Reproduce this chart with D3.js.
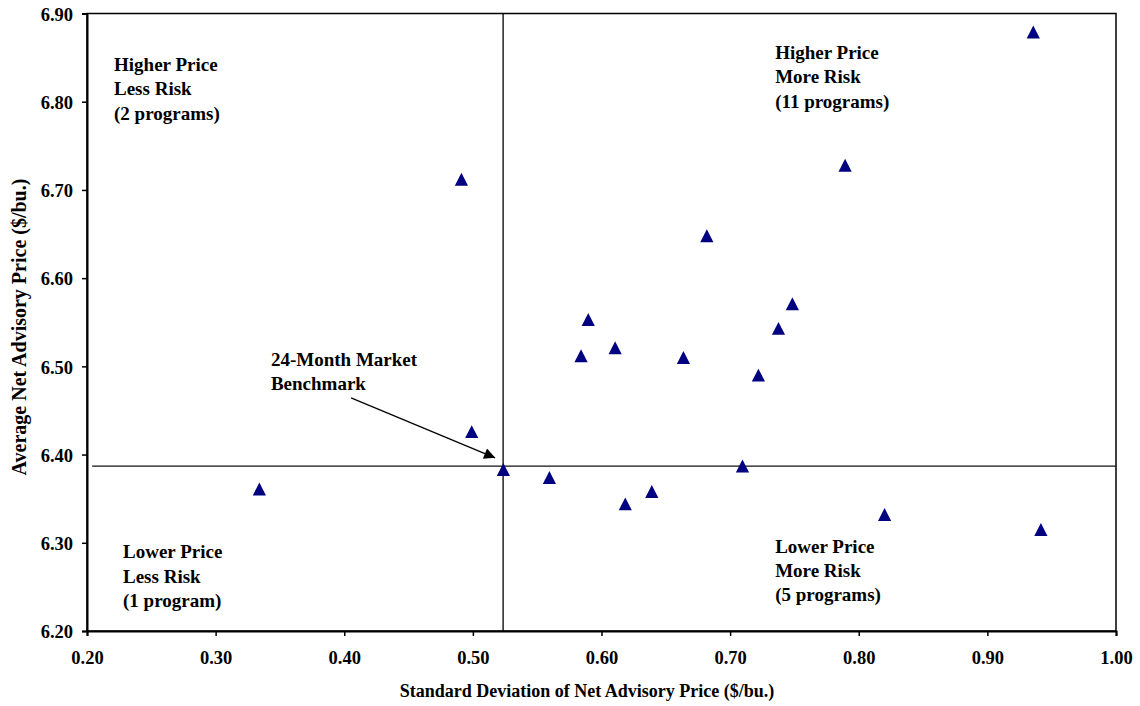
<!DOCTYPE html>
<html>
<head>
<meta charset="utf-8">
<script src="https://cdn.jsdelivr.net/npm/d3@7"></script>
<style>
html,body{margin:0;padding:0;background:#fff;}
svg{display:block;}
text{font-family:"Times New Roman","Liberation Serif",serif;font-weight:bold;fill:#000;}
</style>
</head>
<body>
<svg id="chart" width="1140" height="706"></svg>
<script>
// ---- data ----
const stdDev = [0.9357,0.7894,0.4911,0.6819,0.7484,0.5897,0.7376,0.6106,0.5841,0.6637,0.7220,0.4991,0.7096,0.5237,0.5595,0.6391,0.3340,0.6185,0.8201,0.9416];
const avgPrice = [6.879,6.728,6.712,6.648,6.571,6.553,6.543,6.521,6.512,6.510,6.490,6.426,6.387,6.383,6.374,6.358,6.361,6.344,6.332,6.315];
const xTicks = [0.20,0.30,0.40,0.50,0.60,0.70,0.80,0.90,1.00];
const yTicks = [6.20,6.30,6.40,6.50,6.60,6.70,6.80,6.90];
const benchmarkX = 0.5235;       // vertical reference line (std dev)
const benchmarkY = 6.387;        // horizontal reference line (avg price)
const hLineStartX = 0.204;
const quadrantLabels = [
  {x:0.221, y:6.8348, lines:["Higher Price","Less Risk","(2 programs)"]},
  {x:0.735, y:6.8484, lines:["Higher Price","More Risk","(11 programs)"]},
  {x:0.228, y:6.2824, lines:["Lower Price","Less Risk","(1 program)"]},
  {x:0.735, y:6.2886, lines:["Lower Price","More Risk","(5 programs)"]}
];
const benchLabel = {x:0.343, y:6.50, lines:["24-Month Market","Benchmark"]};
const arrowFrom = {x:0.4053, y:6.4643};
const arrowTo = {x:0.5173, y:6.3963};
const xTitle = "Standard Deviation of Net Advisory Price ($/bu.)";
const yTitle = "Average Net Advisory Price ($/bu.)";

// ---- layout ----
const W = 1140, H = 706;
const m = {left:87, top:13.5, right:24, bottom:75};
const iw = W - m.left - m.right, ih = H - m.top - m.bottom;
const svg = d3.select("#chart");
const defs = svg.append("defs");
defs.append("marker").attr("id","arr").attr("viewBox","0 0 10 10")
  .attr("refX",10).attr("refY",5).attr("markerWidth",14).attr("markerHeight",11)
  .attr("markerUnits","userSpaceOnUse").attr("orient","auto")
  .append("path").attr("d","M0,0 L10,5 L0,10 Z").attr("fill","#000");

const g = svg.append("g").attr("transform",`translate(${m.left},${m.top})`);
const x = d3.scaleLinear().domain([0.2,1.0]).range([0,iw]);
const y = d3.scaleLinear().domain([6.2,6.9]).range([ih,0]);

// plot frame
g.append("rect").attr("x",0).attr("y",0).attr("width",iw).attr("height",ih)
  .attr("fill","none").attr("stroke","#000").attr("stroke-width",1.5);

// reference lines
g.append("line").attr("x1",x(hLineStartX)).attr("x2",iw)
  .attr("y1",y(benchmarkY)).attr("y2",y(benchmarkY))
  .attr("stroke","#111").attr("stroke-width",1.3);
g.append("line").attr("x1",x(benchmarkX)).attr("x2",x(benchmarkX))
  .attr("y1",0).attr("y2",ih).attr("stroke","#000").attr("stroke-width",1.3);

// axes
const xAxis = g.append("g").attr("transform",`translate(0,${ih})`)
  .call(d3.axisBottom(x).tickValues(xTicks).tickFormat(d3.format(".2f")).tickSize(5).tickPadding(6));
const yAxis = g.append("g")
  .call(d3.axisLeft(y).tickValues(yTicks).tickFormat(d3.format(".2f")).tickSize(5).tickPadding(8));
[xAxis,yAxis].forEach(a=>{
  a.select(".domain").attr("stroke","#000").attr("stroke-width",2);
  a.selectAll(".tick line").attr("stroke","#000").attr("stroke-width",1.5);
  a.selectAll(".tick text").attr("font-size",18.5).attr("font-family",null);
});
xAxis.selectAll(".tick text").attr("y",20).attr("dy","0.71em");
yAxis.selectAll(".tick text").attr("x",-14).attr("dy","0.36em");

// points
const tri = "M0,-6.5 L6.6,6.4 L-6.6,6.4 Z";
g.append("g").selectAll("path").data(stdDev.map((d,i)=>({sx:d, py:avgPrice[i]})))
  .join("path").attr("d",tri)
  .attr("transform",d=>`translate(${x(d.sx)},${y(d.py)})`)
  .attr("fill","#000080");

// labels
function multiLine(lbl, lh){
  const t = g.append("text").attr("font-size",19)
    .attr("transform",`translate(${x(lbl.x)},${y(lbl.y)})`);
  lbl.lines.forEach((s,i)=>t.append("tspan").attr("x",0).attr("y",i*lh).text(s));
}
quadrantLabels.forEach(l=>multiLine(l,24.3));
multiLine(benchLabel,23.5);

// arrow
g.append("line").attr("x1",x(arrowFrom.x)).attr("y1",y(arrowFrom.y))
  .attr("x2",x(arrowTo.x)).attr("y2",y(arrowTo.y))
  .attr("stroke","#000").attr("stroke-width",1.2).attr("marker-end","url(#arr)");

// axis titles
svg.append("text").attr("font-size",18).attr("text-anchor","middle")
  .attr("transform",`translate(587,697)`).text(xTitle);
svg.append("text").attr("font-size",20).attr("text-anchor","middle")
  .attr("transform",`translate(26,327) rotate(-90)`).text(yTitle);
</script>
</body>
</html>
